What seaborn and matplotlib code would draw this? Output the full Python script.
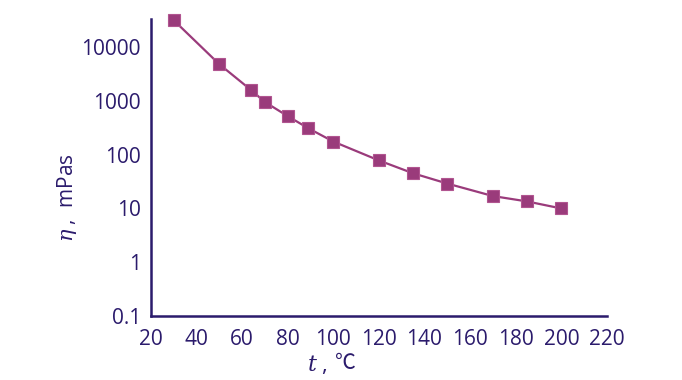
import matplotlib
matplotlib.use("Agg")
from matplotlib import pyplot as plt
import seaborn as sns
import pandas as pd
from matplotlib.ticker import FixedLocator, FixedFormatter, NullLocator

temperature = [30, 50, 64, 70, 80, 89, 100, 120, 135, 150, 170, 185, 200]
viscosity = [31500, 4800, 1580, 950, 520, 310, 175, 78, 45, 29, 17, 13.5, 10]

x_ticks = [20, 40, 60, 80, 100, 120, 140, 160, 180, 200, 220]
y_ticks = [0.1, 1, 10, 100, 1000, 10000]
y_tick_labels = ["0.1", "1", "10", "100", "1000", "10000"]

ink = "#2b1b6c"
curve = "#9a3b7b"

sns.set_theme(style="white")
plt.rcParams["font.family"] = ["Open Sans", "DejaVu Sans", "Noto Sans CJK SC"]
plt.rcParams["mathtext.fontset"] = "dejavuserif"

df = pd.DataFrame({"t": temperature, "eta": viscosity})

fig = plt.figure(figsize=(6.82, 3.8), dpi=100)
ax = fig.add_axes([0.221, 0.168, 0.669, 0.782])

sns.lineplot(data=df, x="t", y="eta", ax=ax, color=curve, linewidth=1.6,
             marker="s", markersize=8, markeredgecolor="#b15590",
             markerfacecolor=curve, markeredgewidth=0.8, clip_on=False)

ax.set_yscale("log")
ax.set_xlim(20, 220)
ax.set_ylim(0.1, 33000)

ax.xaxis.set_major_locator(FixedLocator(x_ticks))
ax.yaxis.set_major_locator(FixedLocator(y_ticks))
ax.yaxis.set_major_formatter(FixedFormatter(y_tick_labels))
ax.yaxis.set_minor_locator(NullLocator())

for side in ["top", "right"]:
    ax.spines[side].set_visible(False)
for side in ["left", "bottom"]:
    ax.spines[side].set_color(ink)
    ax.spines[side].set_linewidth(1.8)

ax.tick_params(axis="both", which="major", direction="in", length=6, width=1.5,
               color=ink, labelcolor=ink, labelsize=15, pad=7)
ax.tick_params(axis="x", pad=9)
ax.set_xlabel("")
ax.set_ylabel("")

# axis titles: italic symbol + unit, drawn as separate pieces
fig.text(0.466, 0.04, r"$t$ ,", color=ink, fontsize=16, ha="center", va="center")
fig.text(0.507, 0.045, "℃", color=ink, fontsize=15, ha="center", va="center",
         family=["Noto Sans CJK SC", "DejaVu Sans"])
fig.text(0.098, 0.48, r"$\eta$ ,  mPas", color=ink, fontsize=15,
         rotation=90, ha="center", va="center")

fig.savefig("out.png", dpi=100)
